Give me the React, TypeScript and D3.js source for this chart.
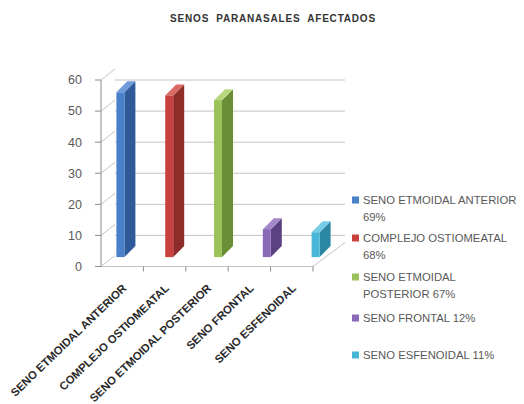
import React from "react";
import * as d3 from "d3";

// Chart data
const categories = [
  "SENO ETMOIDAL ANTERIOR",
  "COMPLEJO OSTIOMEATAL",
  "SENO ETMOIDAL POSTERIOR",
  "SENO FRONTAL",
  "SENO ESFENOIDAL",
];
const values = [53, 52, 50.5, 9, 8];
const yTicks = [0, 10, 20, 30, 40, 50, 60];
const legendLines = [
  ["SENO ETMOIDAL ANTERIOR", "69%"],
  ["COMPLEJO OSTIOMEATAL", "68%"],
  ["SENO ETMOIDAL", "POSTERIOR 67%"],
  ["SENO FRONTAL 12%"],
  ["SENO ESFENOIDAL 11%"],
];
const frontColors = ["#4A7FC9", "#C8413E", "#9CC25A", "#8A69B9", "#48B6D6"];
const sideColors = ["#2E5A9A", "#8E2C2A", "#6A8E36", "#5B4183", "#2A86A2"];
const topColors = ["#6F9BDB", "#DB6A67", "#B7D77E", "#A488CC", "#78CDE6"];

const W = 524;
const H = 404;

export default function App() {
  const y = d3.scaleLinear().domain([0, 60]).range([266.5, 80]);
  const xAxis = d3.scaleBand<string>().domain(categories).range([101, 313]);
  const xBar = d3.scaleBand<string>().domain(categories).range([96, 340]);

  const barW = 8;
  const depth = 11; // bar depth offset (right, up)
  const baseLift = 9.4; // bars stand inside the floor, behind the front edge
  const wallDx = 14;
  const wallDy = 11;
  const grid = "#C4C4C4";
  const axisColor = "#8C8C8C";
  const textColor = "#595959";
  const font = "'Liberation Sans', Arial, sans-serif";

  const legendRows = [
    [200, 217],
    [238, 255],
    [277, 294],
    [318],
    [355],
  ];

  return (
    <svg
      width={W}
      height={H}
      style={{ position: "absolute", left: 0, top: 0, background: "#fff" }}
      fontFamily={font}
    >
      <rect width={W} height={H} fill="#fff" />

      {/* Title */}
      <text
        x={273}
        y={22}
        textAnchor="middle"
        fontSize={10}
        fontWeight="bold"
        letterSpacing={0.8}
        fill="#333"
        style={{ whiteSpace: "pre" }}
      >
        {"SENOS  PARANASALES  AFECTADOS"}
      </text>

      {/* Back wall gridlines */}
      {yTicks
        .filter((t) => t > 0)
        .map((t) => (
          <line
            key={"g" + t}
            x1={101 + wallDx}
            x2={345}
            y1={y(t)}
            y2={y(t)}
            stroke={grid}
            strokeWidth={1}
          />
        ))}

      {/* Side wall lines */}
      {yTicks.map((t) => (
        <line
          key={"w" + t}
          x1={101}
          y1={y(t)}
          x2={101 + wallDx}
          y2={y(t) - wallDy}
          stroke={grid}
          strokeWidth={1}
        />
      ))}

      {/* Floor edges */}
      <line x1={101} x2={313} y1={y(0)} y2={y(0)} stroke={grid} strokeWidth={1} />
      <line x1={313} y1={y(0)} x2={345} y2={y(0) - 24} stroke={grid} strokeWidth={1} />

      {/* Value axis */}
      <line x1={101} x2={101} y1={y(60)} y2={y(0)} stroke={axisColor} strokeWidth={1} />
      {yTicks.map((t) => (
        <g key={"t" + t}>
          <line x1={95} x2={101} y1={y(t)} y2={y(t)} stroke={axisColor} />
          <text
            x={82}
            y={y(t)}
            dy="0.35em"
            textAnchor="end"
            fontSize={12.5}
            fill={textColor}
          >
            {t}
          </text>
        </g>
      ))}

      {/* Category axis ticks */}
      {categories.map((c) => (
        <line
          key={"ct" + c}
          x1={(xAxis(c) as number) + xAxis.bandwidth()}
          x2={(xAxis(c) as number) + xAxis.bandwidth()}
          y1={y(0)}
          y2={y(0) + 5}
          stroke={axisColor}
        />
      ))}

      {/* Bars */}
      {categories.map((c, i) => {
        const cx = (xBar(c) as number) + xBar.bandwidth() / 2;
        const x0 = cx - barW / 2;
        const x1 = cx + barW / 2;
        const bottom = y(0) - baseLift;
        const top = y(values[i]) - baseLift;
        const side = [
          [x1, top],
          [x1 + depth, top - depth],
          [x1 + depth, bottom - depth],
          [x1, bottom],
        ];
        const cap = [
          [x0, top],
          [x0 + depth, top - depth],
          [x1 + depth, top - depth],
          [x1, top],
        ];
        const pts = (p: number[][]) => p.map((q) => q.join(",")).join(" ");
        return (
          <g key={"b" + c}>
            <polygon points={pts(side)} fill={sideColors[i]} />
            <polygon points={pts(cap)} fill={topColors[i]} />
            <rect x={x0} y={top} width={barW} height={bottom - top} fill={frontColors[i]} />
          </g>
        );
      })}

      {/* Category labels */}
      {categories.map((c) => {
        const cx = (xAxis(c) as number) + xAxis.bandwidth() / 2;
        return (
          <text
            key={"cl" + c}
            transform={`translate(${cx + 5},${289}) rotate(-44)`}
            textAnchor="end"
            fontSize={11.3}
            fontWeight="bold"
            fill="#2a2a2a"
          >
            {c}
          </text>
        );
      })}

      {/* Legend */}
      {legendLines.map((lines, i) => (
        <g key={"l" + i}>
          <rect
            x={352}
            y={legendRows[i][0] - 3.5}
            width={7}
            height={7}
            fill={frontColors[i]}
          />
          {lines.map((ln, j) => (
            <text
              key={j}
              x={363}
              y={legendRows[i][j]}
              dy="0.35em"
              fontSize={11.3}
              fill={textColor}
            >
              {ln}
            </text>
          ))}
        </g>
      ))}
    </svg>
  );
}
